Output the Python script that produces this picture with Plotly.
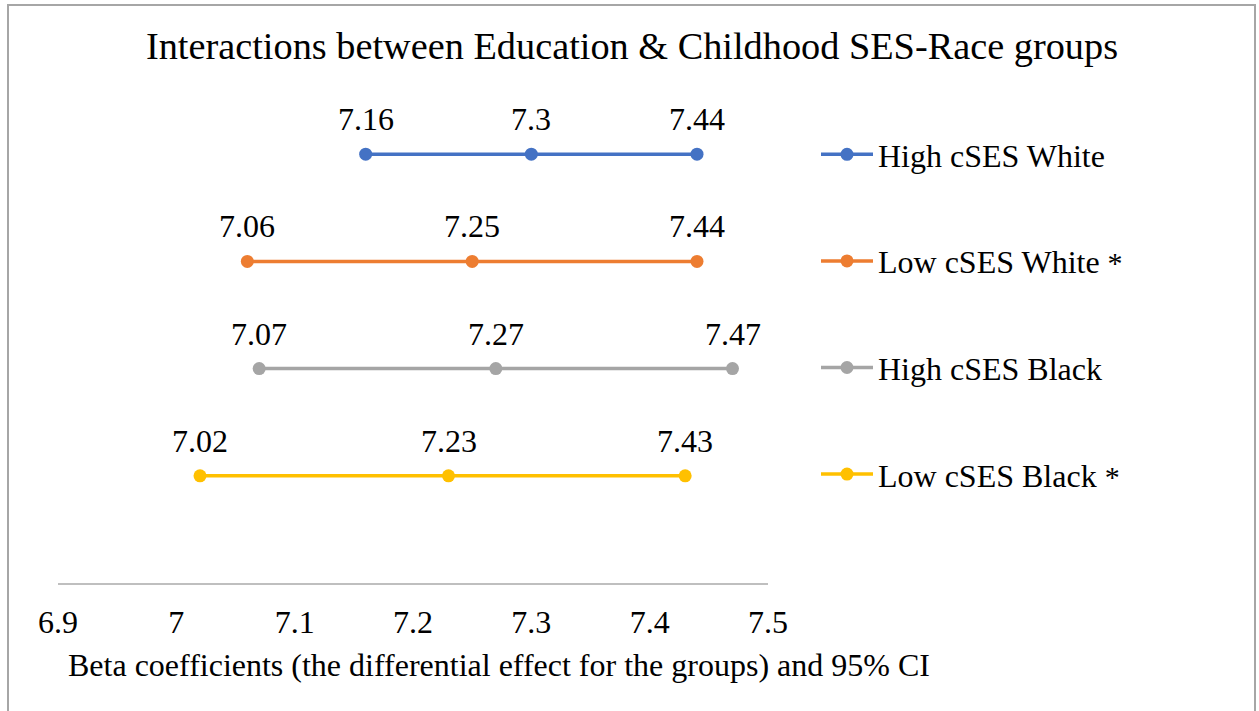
import plotly.graph_objects as go

groups = ["High cSES White", "Low cSES White", "High cSES Black", "Low cSES Black"]
significant = [False, True, False, True]
lower = [7.16, 7.06, 7.07, 7.02]
beta = [7.3, 7.25, 7.27, 7.23]
upper = [7.44, 7.44, 7.47, 7.43]
colors = ["#4472C4", "#ED7D31", "#A5A5A5", "#FFC000"]
x_ticks = [6.9, 7.0, 7.1, 7.2, 7.3, 7.4, 7.5]
x_tick_labels = ["6.9", "7", "7.1", "7.2", "7.3", "7.4", "7.5"]

FONT = "Liberation Serif"
W, H = 1259, 711
L, R, T, B = 58, 491, 47, 128
pw, ph = W - L - R, H - T - B

fig = go.Figure()
n = len(groups)
annotations = []
for i, g in enumerate(groups):
    yv = n - i
    xs = [lower[i], beta[i], upper[i]]
    name = g + (" <span style='font-size:30px'>*</span>" if significant[i] else "")
    fig.add_trace(go.Scatter(
        x=xs, y=[yv] * 3, mode="lines+markers", name=name,
        legendgroup=g,
        line=dict(color=colors[i], width=3.5),
        marker=dict(color=colors[i], size=13),
    ))
    for v in xs:
        annotations.append(dict(x=v, y=yv, xref="x", yref="y", text=f"{v:g}",
                                showarrow=False, yshift=35,
                                font=dict(family=FONT, size=32, color="black")))

annotations.append(dict(x=(66 - L) / pw, y=-(665 - (T + ph)) / ph, xref="paper", yref="paper",
                        xanchor="left", yanchor="middle", showarrow=False,
                        text="Beta coefficients (the differential effect for the groups) and 95% CI",
                        font=dict(family=FONT, size=32, color="black")))

fig.update_layout(
    width=W, height=H,
    margin=dict(l=L, r=R, t=T, b=B, autoexpand=False),
    paper_bgcolor="white", plot_bgcolor="white",
    font=dict(family=FONT, color="black"),
    title=dict(text="Interactions between Education & Childhood SES-Race groups",
               x=632 / W, xanchor="center", y=1 - 46 / H, yanchor="middle",
               font=dict(family=FONT, size=38.3, color="black")),
    xaxis=dict(range=[6.9, 7.5], tickvals=x_ticks, ticktext=x_tick_labels,
               showgrid=False, zeroline=False, showline=True, linecolor="#BFBFBF", linewidth=2,
               ticks="", tickfont=dict(family=FONT, size=32, color="black"), ticklabelstandoff=10),
    yaxis=dict(range=[0, 5], visible=False, showgrid=False, zeroline=False),
    showlegend=True,
    legend=dict(x=(816 - L) / pw, xanchor="left", y=(T + ph - 127) / ph, yanchor="top",
                font=dict(family=FONT, size=32, color="black"), itemwidth=52,
                traceorder="grouped", tracegroupgap=62, bgcolor="rgba(0,0,0,0)"),
    annotations=annotations,
    shapes=[dict(type="rect", xref="paper", yref="paper",
                 x0=(8 - L) / pw, x1=(1255 - L) / pw,
                 y0=-(730 - (T + ph)) / ph, y1=(T + ph - 5) / ph,
                 line=dict(color="#A6A6A6", width=2), layer="below")],
)

fig.write_html("out.html", config={"displayModeBar": False},
               post_script="document.body.style.margin='0';")
